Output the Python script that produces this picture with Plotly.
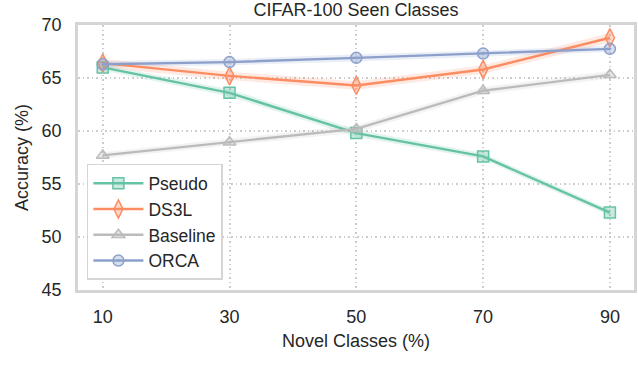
import plotly.graph_objects as go

novel = [10, 30, 50, 70, 90]
pseudo = [66.0, 63.6, 59.8, 57.6, 52.3]
ds3l = [66.4, 65.2, 64.3, 65.8, 68.8]
baseline = [57.7, 58.95, 60.2, 63.8, 65.3]
orca = [66.3, 66.5, 66.9, 67.3, 67.75]

pseudo_sd = [0.3, 0.35, 0.35, 0.3, 0.3]
ds3l_sd = [0.4, 0.4, 0.4, 0.4, 0.45]
baseline_sd = [0.3, 0.3, 0.35, 0.35, 0.35]
orca_sd = [0.3, 0.3, 0.35, 0.3, 0.3]

y_ticks = [45, 50, 55, 60, 65, 70]

series = [
    ("Pseudo", pseudo, pseudo_sd, (102, 194, 165), "square"),
    ("DS3L", ds3l, ds3l_sd, (252, 141, 98), "diamond-tall"),
    ("Baseline", baseline, baseline_sd, (187, 187, 187), "triangle-up"),
    ("ORCA", orca, orca_sd, (141, 160, 203), "circle-dot"),
]

fig = go.Figure()
for name, vals, sd, c, sym in series:
    upper = [v + s for v, s in zip(vals, sd)]
    lower = [v - s for v, s in zip(vals, sd)]
    fig.add_trace(go.Scatter(x=novel, y=upper, mode="lines", line=dict(width=0),
                             showlegend=False, hoverinfo="skip"))
    fig.add_trace(go.Scatter(x=novel, y=lower, mode="lines", line=dict(width=0),
                             fill="tonexty", fillcolor="rgba(%d,%d,%d,0.18)" % c,
                             showlegend=False, hoverinfo="skip"))
for name, vals, sd, c, sym in series:
    rgb = "rgb(%d,%d,%d)" % c
    fig.add_trace(go.Scatter(
        x=novel, y=vals, mode="lines+markers", name=name,
        line=dict(color=rgb, width=2.4),
        marker=dict(symbol=sym, size=11 if sym != "diamond-tall" else 13,
                    color="rgba(%d,%d,%d,0.35)" % c,
                    line=dict(color=rgb, width=1.5)),
    ))

fig.update_layout(
    width=638, height=384,
    margin=dict(l=78, r=4, t=25, b=94),
    paper_bgcolor="white", plot_bgcolor="white",
    font=dict(family="Liberation Sans, Arial, sans-serif", color="#262626", size=18),
    title=dict(text="CIFAR-100 Seen Classes", x=0.558, xanchor="center",
               y=0.975, yanchor="middle", font=dict(size=18)),
    showlegend=True,
    legend=dict(x=0.016, y=0.038, xanchor="left", yanchor="bottom",
                traceorder="normal",
                bgcolor="white", bordercolor="#d5d5d5", borderwidth=1.5,
                font=dict(size=17.5), tracegroupgap=0, itemwidth=50),
)
fig.update_xaxes(
    range=[6.1, 93.8], tickvals=novel, ticktext=[str(v) for v in novel],
    tickfont=dict(size=18), ticks="", ticklabelstandoff=9,
    showgrid=True, gridcolor="#cccccc",
    griddash="1.5px,3px", gridwidth=1.5, zeroline=False, automargin=False,
    showline=True, linecolor="#d5d5d5", linewidth=2.5, mirror=True,
    title=dict(text="Novel Classes (%)", font=dict(size=18), standoff=9),
)
fig.update_yaxes(
    range=[45, 70], tickvals=y_ticks, tickfont=dict(size=18), ticks="",
    ticklabelstandoff=10,
    showgrid=True, gridcolor="#cccccc", griddash="1.5px,3px", gridwidth=1.5,
    zeroline=False, showline=True, linecolor="#d5d5d5", linewidth=2.5, mirror=True,
    automargin=False,
    title=dict(text="Accuracy (%)", font=dict(size=18), standoff=9),
)

fig.write_html("out.html", config={"displayModeBar": False},
               post_script="document.body.style.margin='0';")
